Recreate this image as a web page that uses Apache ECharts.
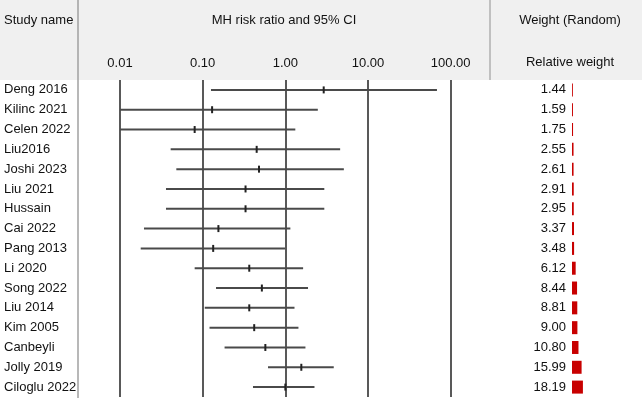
<!DOCTYPE html>
<html>
<head>
<meta charset="utf-8">
<script src="https://cdn.jsdelivr.net/npm/echarts@6/dist/echarts.min.js"></script>
<style>
  html, body { margin: 0; padding: 0; background: #fff; }
  #main { width: 642px; height: 398px; }
</style>
</head>
<body>
<div id="main"></div>
<script>
// studies, top to bottom
var studies = ['Deng 2016', 'Kilinc 2021', 'Celen 2022', 'Liu2016', 'Joshi 2023', 'Liu 2021', 'Hussain', 'Cai 2022',
  'Pang 2013', 'Li 2020', 'Song 2022', 'Liu 2014', 'Kim 2005', 'Canbeyli', 'Jolly 2019', 'Ciloglu 2022'];
// MH risk ratio and 95% CI
var riskRatio = [2.91, 0.13, 0.08, 0.45, 0.48, 0.33, 0.33, 0.155, 0.134, 0.366, 0.52, 0.366, 0.42, 0.573, 1.56, 1.0];
var lowerCI = [0.126, 0.01, 0.01, 0.041, 0.048, 0.036, 0.036, 0.0195, 0.0178, 0.08, 0.145, 0.106, 0.121, 0.184, 0.617, 0.406];
var upperCI = [68.2, 2.47, 1.32, 4.6, 5.1, 2.96, 2.96, 1.15, 0.99, 1.64, 1.88, 1.29, 1.44, 1.75, 3.85, 2.25];
// relative weight (random)
var weights = [1.44, 1.59, 1.75, 2.55, 2.61, 2.91, 2.95, 3.37, 3.48, 6.12, 8.44, 8.81, 9.00, 10.80, 15.99, 18.19];

var FONT = 'Liberation Sans';
var chartDom = document.getElementById('main');
var myChart = echarts.init(chartDom, null, { renderer: 'canvas' });

var ciData = studies.map(function (s, i) {
  return [i, lowerCI[i], riskRatio[i], upperCI[i]];
});

var option = {
  animation: false,
  backgroundColor: '#fff',
  grid: [
    { left: 120, width: 330.7, top: 80, bottom: 1 },  // forest plot
    { left: 572, width: 60, top: 80, bottom: 1 }      // weight bars
  ],
  xAxis: [
    {
      gridIndex: 0,
      type: 'log',
      logBase: 10,
      min: 0.01,
      max: 100,
      position: 'top',
      axisLine: { show: false },
      axisTick: { show: false },
      axisLabel: {
        margin: 10,
        color: '#111',
        fontSize: 13,
        fontFamily: FONT,
        formatter: function (v) { return v.toFixed(2); }
      },
      splitLine: { show: true, lineStyle: { color: '#222', width: 1.5 } }
    },
    {
      gridIndex: 1,
      type: 'value',
      min: 0,
      max: 100,
      show: false
    }
  ],
  yAxis: [
    {
      gridIndex: 0,
      type: 'category',
      data: studies,
      inverse: true,
      axisLine: { show: false },
      axisTick: { show: false },
      splitLine: { show: false },
      axisLabel: {
        align: 'left',
        margin: 116,
        color: '#111',
        fontSize: 13,
        fontFamily: FONT
      }
    },
    {
      gridIndex: 1,
      type: 'category',
      data: studies,
      inverse: true,
      show: false
    }
  ],
  series: [
    {
      name: 'CI',
      type: 'custom',
      xAxisIndex: 0,
      yAxisIndex: 0,
      data: ciData,
      encode: { y: 0, x: [1, 2, 3] },
      renderItem: function (params, api) {
        var row = api.value(0);
        var lo = api.coord([api.value(1), row]);
        var mid = api.coord([api.value(2), row]);
        var hi = api.coord([api.value(3), row]);
        return {
          type: 'group',
          children: [
            {
              type: 'line',
              shape: { x1: lo[0], y1: lo[1], x2: hi[0], y2: hi[1] },
              style: { stroke: '#4a4a4a', lineWidth: 2 }
            },
            {
              type: 'line',
              shape: { x1: mid[0], y1: mid[1] - 3.5, x2: mid[0], y2: mid[1] + 3.5 },
              style: { stroke: '#222', lineWidth: 2 }
            }
          ]
        };
      }
    },
    {
      name: 'Weight',
      type: 'bar',
      xAxisIndex: 1,
      yAxisIndex: 1,
      data: weights,
      barWidth: 13,
      itemStyle: { color: '#c80000' },
      label: {
        show: true,
        position: 'left',
        distance: 6,
        color: '#111',
        fontSize: 13,
        fontFamily: FONT,
        formatter: function (p) { return p.value.toFixed(2); }
      }
    }
  ],
  graphic: {
    elements: [
      { type: 'rect', z: -100, shape: { x: 0, y: 0, width: 642, height: 80 }, style: { fill: '#f0f0f0' } },
      { type: 'line', shape: { x1: 78, y1: 0, x2: 78, y2: 398 }, style: { stroke: '#a0a0a0', lineWidth: 1.5 } },
      { type: 'line', shape: { x1: 490, y1: 0, x2: 490, y2: 80 }, style: { stroke: '#b0b0b0', lineWidth: 1.5 } },
      { type: 'text', x: 4, y: 20, style: { text: 'Study name', fill: '#111', font: '13px "Liberation Sans"', textVerticalAlign: 'middle' } },
      { type: 'text', x: 284, y: 20, style: { text: 'MH risk ratio and 95% CI', fill: '#111', font: '13px "Liberation Sans"', textAlign: 'center', textVerticalAlign: 'middle' } },
      { type: 'text', x: 570, y: 20, style: { text: 'Weight (Random)', fill: '#111', font: '13px "Liberation Sans"', textAlign: 'center', textVerticalAlign: 'middle' } },
      { type: 'text', x: 570, y: 62, style: { text: 'Relative weight', fill: '#111', font: '13px "Liberation Sans"', textAlign: 'center', textVerticalAlign: 'middle' } }
    ]
  }
};

myChart.setOption(option);
window.addEventListener('resize', function () {
  myChart.resize();
});
</script>
</body>
</html>
